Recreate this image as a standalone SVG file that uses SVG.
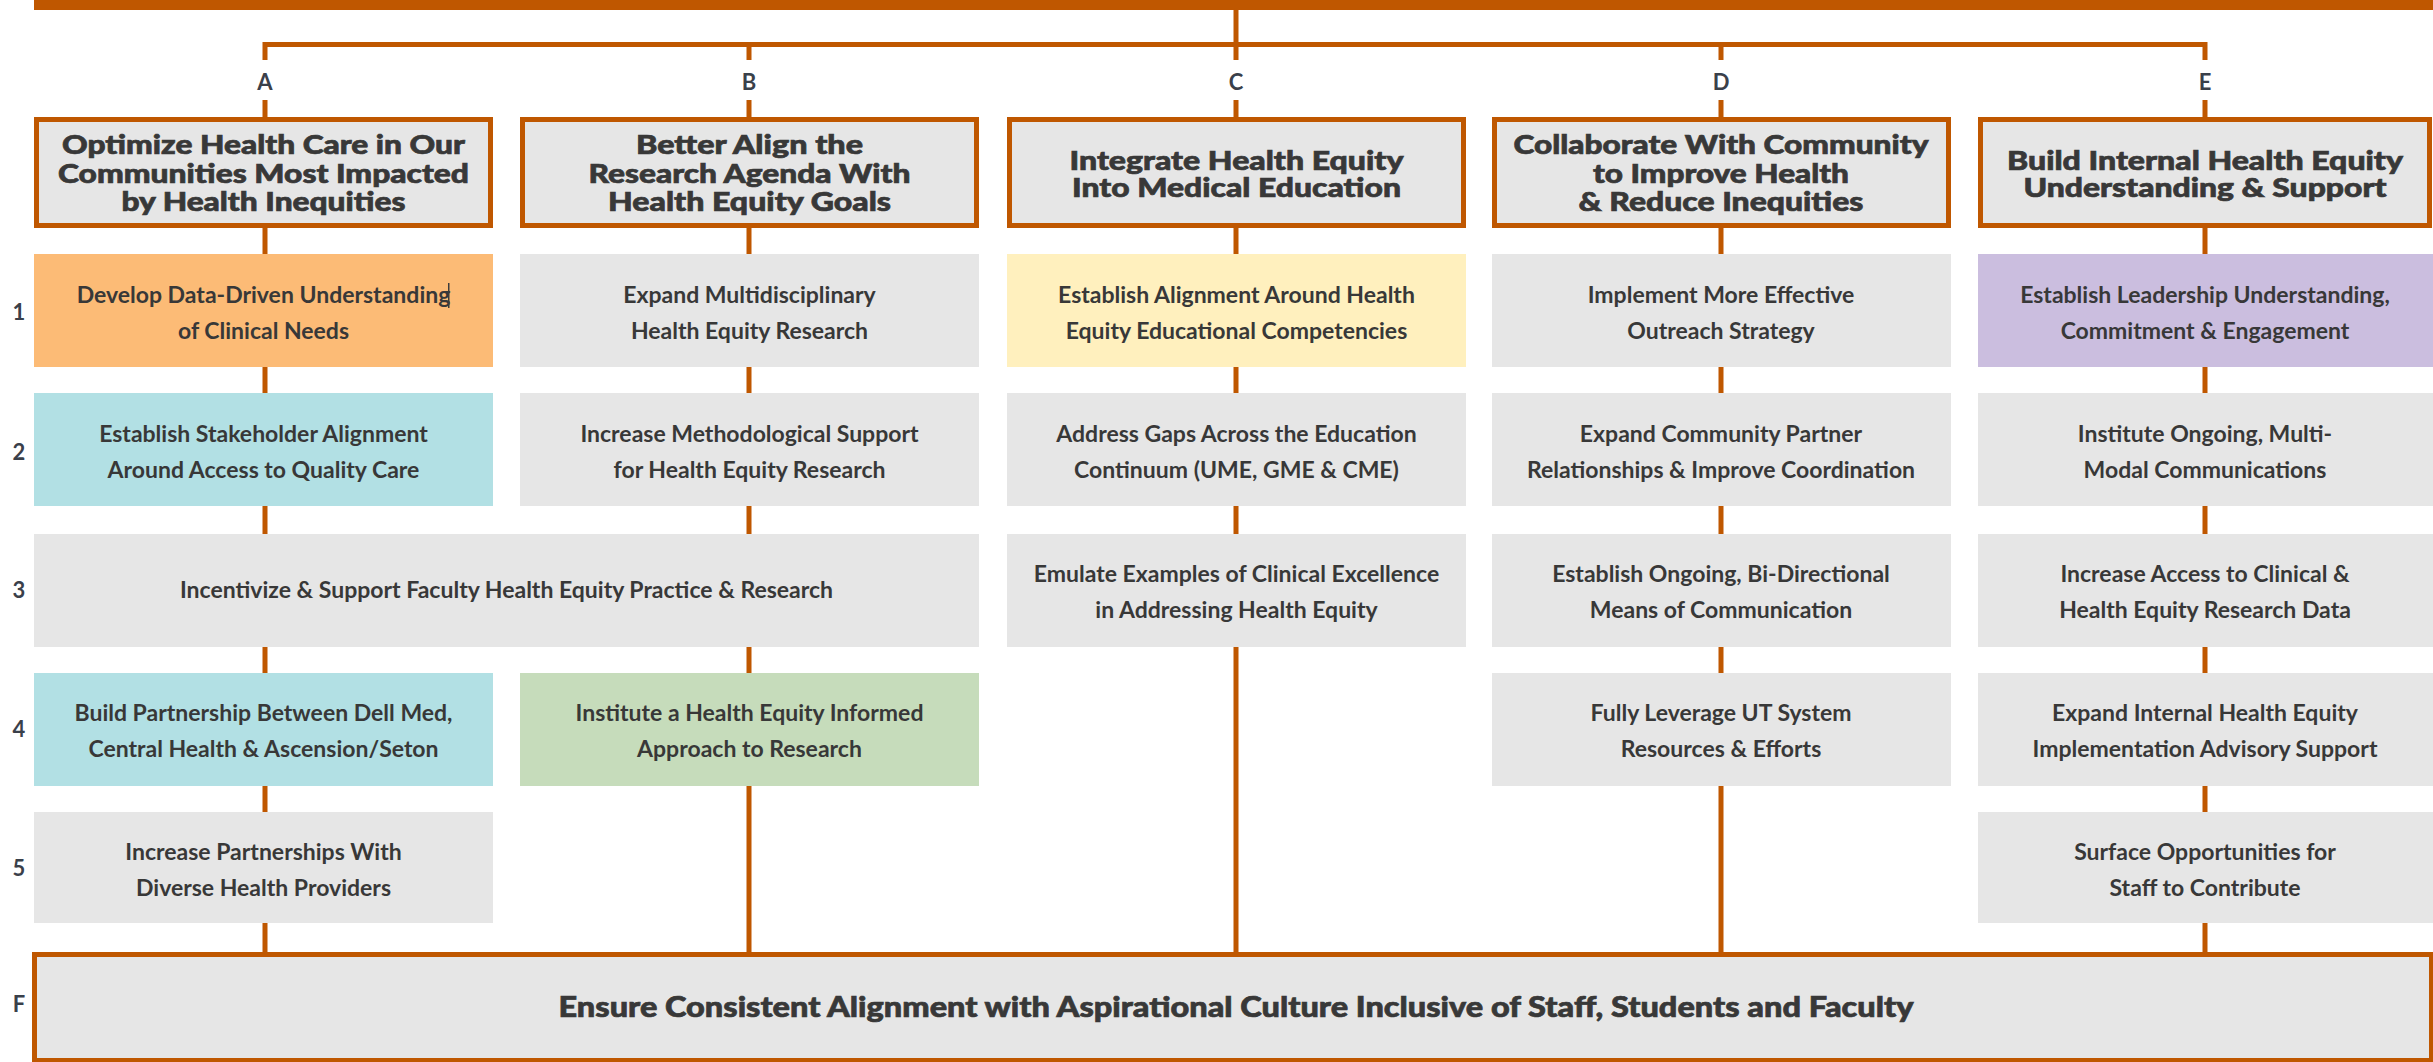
<svg xmlns="http://www.w3.org/2000/svg" width="2433" height="1062" viewBox="0 0 2433 1062">
<style>
.hdr{fill:#E6E6E6;stroke:#BF5700;stroke-width:5}
.box{stroke:none}
.g{fill:#E6E6E6}.o{fill:#FCBB76}.t{fill:#B2E0E4}.y{fill:#FFF0BE}.p{fill:#CBBEDF}.gr{fill:#C6DCBB}
.ln{stroke:#BF5700;stroke-width:5;fill:none}
.ht{font-family:Lato,"Liberation Sans",sans-serif;font-weight:900;font-size:27px;fill:#383838;stroke:#383838;stroke-width:0.7px;text-anchor:middle}
.bt{font-family:Lato,"Liberation Sans",sans-serif;font-weight:700;font-size:23px;fill:#383838;text-anchor:middle}
.lb{font-family:Lato,"Liberation Sans",sans-serif;font-weight:700;font-size:22px;fill:#3A404A;text-anchor:middle}
.ft{font-family:Lato,"Liberation Sans",sans-serif;font-weight:900;font-size:28px;fill:#383838;stroke:#383838;stroke-width:0.7px;text-anchor:middle}
</style>
<rect x="34" y="0" width="2399" height="10" fill="#BF5700"/>
<g id="connectors">
<path class="ln" d="M1236,10 V44.5"/>
<path class="ln" d="M265,60 V44.5 H2205 V60"/>
<path class="ln" d="M749,44.5 V60 M1236,44.5 V60 M1721,44.5 V60"/>
<path class="ln" d="M265,100 V118 M749,100 V118 M1236,100 V118 M1721,100 V118 M2205,100 V118"/>
<path class="ln" d="M265,226 V954 M749,226 V954 M1236,226 V954 M1721,226 V954 M2205,226 V954"/>
</g>
<g id="letters">
<text class="lb" x="265" y="90">A</text>
<text class="lb" x="749" y="90">B</text>
<text class="lb" x="1236" y="90">C</text>
<text class="lb" x="1721" y="90">D</text>
<text class="lb" x="2205" y="90">E</text>
<text class="lb" x="19" y="320">1</text>
<text class="lb" x="19" y="460">2</text>
<text class="lb" x="19" y="598">3</text>
<text class="lb" x="19" y="737">4</text>
<text class="lb" x="19" y="876">5</text>
<text class="lb" x="19" y="1012">F</text>
</g>
<g id="hA"><rect class="hdr" x="36.5" y="119.5" width="454" height="106"/>
<text class="ht" x="263.5" y="154" textLength="403" lengthAdjust="spacingAndGlyphs">Optimize Health Care in Our</text><text class="ht" x="263.5" y="183" textLength="411" lengthAdjust="spacingAndGlyphs">Communities Most Impacted</text><text class="ht" x="263.5" y="211" textLength="284" lengthAdjust="spacingAndGlyphs">by Health Inequities</text></g>
<g id="hB"><rect class="hdr" x="522.5" y="119.5" width="454" height="106"/>
<text class="ht" x="749.5" y="154" textLength="227" lengthAdjust="spacingAndGlyphs">Better Align the</text><text class="ht" x="749.5" y="183" textLength="322" lengthAdjust="spacingAndGlyphs">Research Agenda With</text><text class="ht" x="749.5" y="211" textLength="283" lengthAdjust="spacingAndGlyphs">Health Equity Goals</text></g>
<g id="hC"><rect class="hdr" x="1009.5" y="119.5" width="454" height="106"/>
<text class="ht" x="1236.5" y="170" textLength="334" lengthAdjust="spacingAndGlyphs">Integrate Health Equity</text><text class="ht" x="1236.5" y="197" textLength="329" lengthAdjust="spacingAndGlyphs">Into Medical Education</text></g>
<g id="hD"><rect class="hdr" x="1494.5" y="119.5" width="454" height="106"/>
<text class="ht" x="1721" y="154" textLength="415" lengthAdjust="spacingAndGlyphs">Collaborate With Community</text><text class="ht" x="1721" y="183" textLength="256" lengthAdjust="spacingAndGlyphs">to Improve Health</text><text class="ht" x="1721" y="211" textLength="285" lengthAdjust="spacingAndGlyphs">&amp; Reduce Inequities</text></g>
<g id="hE"><rect class="hdr" x="1980.5" y="119.5" width="449" height="106"/>
<text class="ht" x="2205" y="170" textLength="396" lengthAdjust="spacingAndGlyphs">Build Internal Health Equity</text><text class="ht" x="2205" y="197" textLength="363" lengthAdjust="spacingAndGlyphs">Understanding &amp; Support</text></g>

<g id="A1"><rect class="box o" x="34" y="254" width="459" height="113"/><text class="bt" x="263.5" y="303">Develop Data-Driven Understanding</text><text class="bt" x="263.5" y="339">of Clinical Needs</text><rect x="448" y="283" width="1.5" height="25" fill="#3C3C3C"/></g>
<g id="B1"><rect class="box g" x="520" y="254" width="459" height="113"/><text class="bt" x="749.5" y="303">Expand Multidisciplinary</text><text class="bt" x="749.5" y="339">Health Equity Research</text></g>
<g id="C1"><rect class="box y" x="1007" y="254" width="459" height="113"/><text class="bt" x="1236.5" y="303">Establish Alignment Around Health</text><text class="bt" x="1236.5" y="339">Equity Educational Competencies</text></g>
<g id="D1"><rect class="box g" x="1492" y="254" width="459" height="113"/><text class="bt" x="1721" y="303">Implement More Effective</text><text class="bt" x="1721" y="339">Outreach Strategy</text></g>
<g id="E1"><rect class="box p" x="1978" y="254" width="455" height="113"/><text class="bt" x="2205" y="303">Establish Leadership Understanding,</text><text class="bt" x="2205" y="339">Commitment &amp; Engagement</text></g>

<g id="A2"><rect class="box t" x="34" y="393" width="459" height="113"/><text class="bt" x="263.5" y="442">Establish Stakeholder Alignment</text><text class="bt" x="263.5" y="478">Around Access to Quality Care</text></g>
<g id="B2"><rect class="box g" x="520" y="393" width="459" height="113"/><text class="bt" x="749.5" y="442">Increase Methodological Support</text><text class="bt" x="749.5" y="478">for Health Equity Research</text></g>
<g id="C2"><rect class="box g" x="1007" y="393" width="459" height="113"/><text class="bt" x="1236.5" y="442">Address Gaps Across the Education</text><text class="bt" x="1236.5" y="478">Continuum (UME, GME &amp; CME)</text></g>
<g id="D2"><rect class="box g" x="1492" y="393" width="459" height="113"/><text class="bt" x="1721" y="442">Expand Community Partner</text><text class="bt" x="1721" y="478">Relationships &amp; Improve Coordination</text></g>
<g id="E2"><rect class="box g" x="1978" y="393" width="455" height="113"/><text class="bt" x="2205" y="442">Institute Ongoing, Multi-</text><text class="bt" x="2205" y="478">Modal Communications</text></g>

<g id="AB3"><rect class="box g" x="34" y="534" width="945" height="113"/><text class="bt" x="506.5" y="598">Incentivize &amp; Support Faculty Health Equity Practice &amp; Research</text></g>
<g id="C3"><rect class="box g" x="1007" y="534" width="459" height="113"/><text class="bt" x="1236.5" y="582">Emulate Examples of Clinical Excellence</text><text class="bt" x="1236.5" y="618">in Addressing Health Equity</text></g>
<g id="D3"><rect class="box g" x="1492" y="534" width="459" height="113"/><text class="bt" x="1721" y="582">Establish Ongoing, Bi-Directional</text><text class="bt" x="1721" y="618">Means of Communication</text></g>
<g id="E3"><rect class="box g" x="1978" y="534" width="455" height="113"/><text class="bt" x="2205" y="582">Increase Access to Clinical &amp;</text><text class="bt" x="2205" y="618">Health Equity Research Data</text></g>

<g id="A4"><rect class="box t" x="34" y="673" width="459" height="113"/><text class="bt" x="263.5" y="721">Build Partnership Between Dell Med,</text><text class="bt" x="263.5" y="757">Central Health &amp; Ascension/Seton</text></g>
<g id="B4"><rect class="box gr" x="520" y="673" width="459" height="113"/><text class="bt" x="749.5" y="721">Institute a Health Equity Informed</text><text class="bt" x="749.5" y="757">Approach to Research</text></g>
<g id="D4"><rect class="box g" x="1492" y="673" width="459" height="113"/><text class="bt" x="1721" y="721">Fully Leverage UT System</text><text class="bt" x="1721" y="757">Resources &amp; Efforts</text></g>
<g id="E4"><rect class="box g" x="1978" y="673" width="455" height="113"/><text class="bt" x="2205" y="721">Expand Internal Health Equity</text><text class="bt" x="2205" y="757">Implementation Advisory Support</text></g>

<g id="A5"><rect class="box g" x="34" y="812" width="459" height="111"/><text class="bt" x="263.5" y="860">Increase Partnerships With</text><text class="bt" x="263.5" y="896">Diverse Health Providers</text></g>
<g id="E5"><rect class="box g" x="1978" y="812" width="455" height="111"/><text class="bt" x="2205" y="860">Surface Opportunities for</text><text class="bt" x="2205" y="896">Staff to Contribute</text></g>

<g id="F"><rect class="hdr" x="34.5" y="954.5" width="2397" height="106"/>
<text class="ft" x="1236" y="1017" textLength="1355" lengthAdjust="spacingAndGlyphs">Ensure Consistent Alignment with Aspirational Culture Inclusive of Staff, Students and Faculty</text></g>
</svg>
